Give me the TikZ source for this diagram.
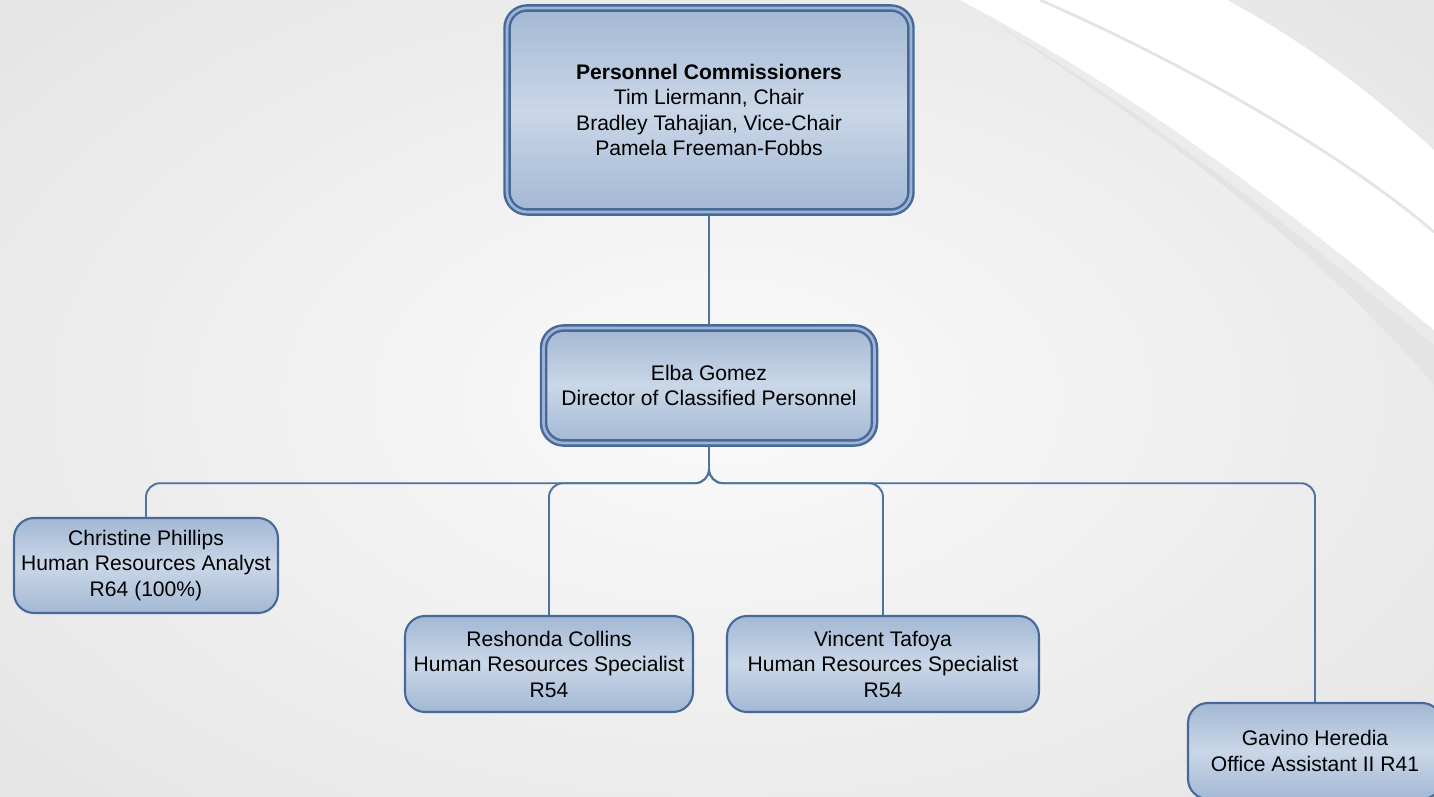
\documentclass[tikz,border=0pt]{standalone}
\usepackage{fontspec}
\setmainfont{Liberation Sans}
\usetikzlibrary{calc}

\definecolor{boxedge}{HTML}{46699A}
\definecolor{boxdark}{HTML}{A3B8D4}
\definecolor{boxlight}{HTML}{CAD7E8}
\definecolor{boxgap}{HTML}{9DB4D2}
\definecolor{wirecol}{HTML}{4F72A0}
\definecolor{bgin}{HTML}{FAFAFA}
\definecolor{bgout}{HTML}{E6E6E6}
\definecolor{streak}{HTML}{E4E4E4}

\tikzset{
  person/.style={draw=boxedge, line width=1.2pt, rounded corners=0.4cm,
    top color=boxdark, bottom color=boxdark, middle color=boxlight,
    align=center, inner sep=0pt, font=\fontsize{12}{14.5}\selectfont},
  chief/.style={person, line width=1.4pt, double=boxgap, double distance=1.5pt},
  wire/.style={draw=wirecol, line width=1.1pt, rounded corners=0.28cm}
}

\begin{document}
\begin{tikzpicture}[x=0.02cm, y=-0.02cm]
    \useasboundingbox (0,0) rectangle (1434,797);
    \clip (0,0) rectangle (1434,797);
    \fill[inner color=bgin, outer color=bgout] (-200,-150) rectangle (1634,947);

    \fill[white] (1227,0) .. controls (1320,50) and (1390,110) .. (1434,150)
        -- (1434,330) .. controls (1300,220) and (1150,100) .. (960,0) -- cycle;
    \draw[streak, line width=1.6pt] (1040,0) .. controls (1200,70) and (1350,160) .. (1434,232);
    \fill[streak] (1434,345) .. controls (1300,235) and (1150,115) .. (990,20)
        .. controls (1160,130) and (1320,250) .. (1434,385) -- cycle;

    \coordinate (T) at (709,110);
    \coordinate (M) at (709,385.5);

\node[chief, minimum width=8.08cm, minimum height=4.08cm] (board) at (T)
    {\textbf{Personnel Commissioners}\\Tim Liermann, Chair\\Bradley Tahajian, Vice-Chair\\Pamela Freeman-Fobbs};
\node[chief, minimum width=6.62cm, minimum height=2.3cm] (director) at (M)
    {Elba Gomez\\Director of Classified Personnel};
\node[person, minimum width=5.28cm, minimum height=1.9cm] (analyst) at (146,565.5)
    {Christine Phillips\\Human Resources Analyst\\R64 (100\%)};
\node[person, minimum width=5.76cm, minimum height=1.92cm] (specA) at (549,664)
    {Reshonda Collins\\Human Resources Specialist\\R54};
\node[person, minimum width=6.24cm, minimum height=1.92cm] (specB) at (883,664)
    {Vincent Tafoya\\Human Resources Specialist\\R54};
\node[person, minimum width=5.08cm, minimum height=1.92cm] (assist) at (1315,751)
    {Gavino Heredia\\Office Assistant II R41};

\draw[wire] (board.south) -- (director.north);
\foreach \n in {analyst, specA, specB, assist}
    \draw[wire] (director.south) -- ++(0,39) -| (\n.north);
  \end{tikzpicture}
\end{document}
